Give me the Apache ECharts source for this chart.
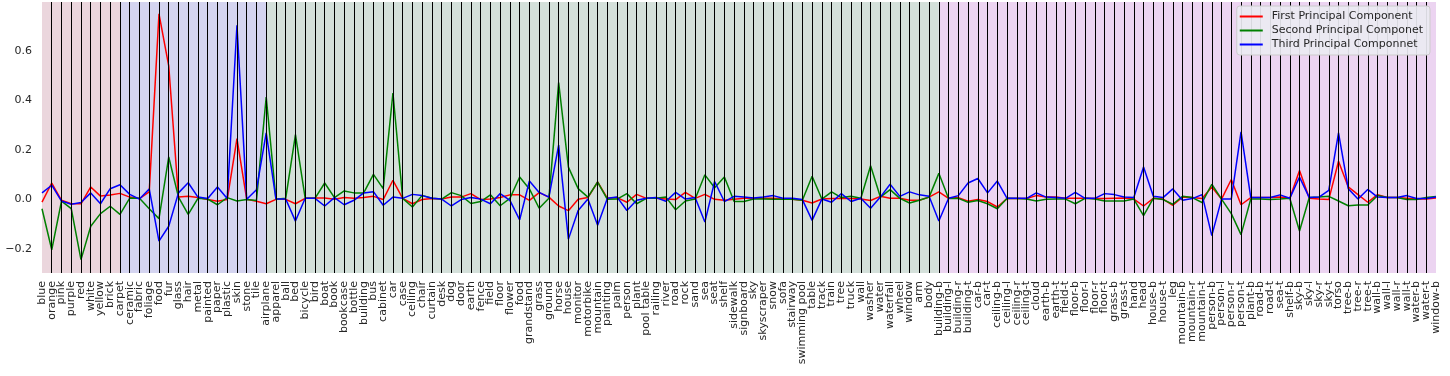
<!DOCTYPE html>
<html>
<head>
<meta charset="utf-8">
<script src="https://cdn.jsdelivr.net/npm/echarts@6/dist/echarts.min.js"></script>
<style>
  html, body { margin: 0; padding: 0; background: #fff; }
  #chart { width: 1450px; height: 376px; }
</style>
</head>
<body>
<div id="chart"></div>
<script>
// categories (colors, materials, objects, parts)
const categories = [
  'blue', 'orange', 'pink', 'purple', 'red', 'white', 'yellow', 'brick', 'carpet', 'ceramic',
  'fabric', 'foliage', 'food', 'fur', 'glass', 'hair', 'metal', 'painted', 'paper', 'plastic',
  'skin', 'stone', 'tile', 'airplane', 'apparel', 'ball', 'bed', 'bicycle', 'bird', 'boat',
  'book', 'bookcase', 'bottle', 'building', 'bus', 'cabinet', 'car', 'case', 'ceiling', 'chair',
  'curtain', 'desk', 'dog', 'door', 'earth', 'fence', 'field', 'floor', 'flower', 'food',
  'grandstand', 'grass', 'ground', 'horse', 'house', 'monitor', 'motorbike', 'mountain', 'painting', 'palm',
  'person', 'plant', 'pool table', 'railing', 'river', 'road', 'rock', 'sand', 'sea', 'seat',
  'shelf', 'sidewalk', 'signboard', 'sky', 'skyscraper', 'snow', 'sofa', 'stairway', 'swimming pool', 'table',
  'track', 'train', 'tree', 'truck', 'wall', 'washer', 'water', 'waterfall', 'wheel', 'window',
  'arm', 'body', 'building-b', 'building-l', 'building-r', 'building-t', 'car-b', 'car-t', 'ceiling-b', 'ceiling-l',
  'ceiling-r', 'ceiling-t', 'cloud', 'earth-b', 'earth-t', 'field-t', 'floor-b', 'floor-l', 'floor-r', 'floor-t',
  'grass-b', 'grass-t', 'hand', 'head', 'house-b', 'house-t', 'leg', 'mountain-b', 'mountain-r', 'mountain-t',
  'person-b', 'person-l', 'person-r', 'person-t', 'plant-b', 'road-b', 'road-t', 'sea-t', 'shelf-b', 'sky-b',
  'sky-l', 'sky-r', 'sky-t', 'torso', 'tree-b', 'tree-r', 'tree-t', 'wall-b', 'wall-l', 'wall-r',
  'wall-t', 'water-b', 'water-t', 'window-b'
]

const firstPC = [
  -0.011, 0.066, -0.004, -0.018, -0.018, 0.05, 0.013, 0.017, 0.024, 0.009,
  0.003, 0.03, 0.75, 0.54, 0.009, 0.012, 0.007, -0.001, -0.008, -0.001,
  0.245, 0.0, -0.008, -0.018, 0.0, 0.0, -0.018, 0.004, 0.005, 0.005,
  0.0, 0.007, 0.004, 0.007, 0.012, -0.001, 0.077, 0.004, -0.018, -0.001,
  0.003, 0.001, 0.009, 0.009, 0.023, -0.001, 0.001, 0.007, 0.018, 0.018,
  -0.004, 0.027, 0.009, -0.027, -0.046, 0.0, 0.007, 0.07, 0.004, 0.007,
  -0.012, 0.02, 0.004, 0.004, 0.001, -0.001, 0.028, 0.004, 0.02, 0.0,
  -0.004, 0.0, 0.004, 0.004, 0.004, 0.004, 0.001, 0.0, -0.004, -0.015,
  0.001, 0.003, 0.003, 0.003, 0.001, -0.005, 0.012, 0.004, 0.004, -0.004,
  -0.004, 0.009, 0.03, 0.004, 0.007, -0.008, -0.001, -0.009, -0.031, 0.003,
  0.003, 0.003, 0.015, 0.009, 0.009, 0.004, 0.004, 0.004, 0.003, 0.003,
  0.004, 0.005, 0.001, -0.027, 0.004, 0.001, -0.024, 0.009, 0.007, 0.003,
  0.05, 0.001, 0.08, -0.022, 0.007, 0.007, 0.007, 0.009, 0.004, 0.117,
  0.004, 0.001, -0.001, 0.154, 0.05, 0.019, -0.012, 0.019, 0.007, 0.007,
  0.004, 0.001, 0.001, 0.005
]

const secondPC = [
  -0.038, -0.204, -0.007, -0.038, -0.244, -0.109, -0.058, -0.028, -0.061, 0.005,
  0.004, -0.038, -0.078, 0.171, 0.009, -0.061, 0.004, 0.001, -0.022, 0.007,
  -0.007, -0.001, -0.005, 0.414, 0.0, 0.004, 0.262, 0.004, 0.004, 0.066,
  0.007, 0.034, 0.026, 0.026, 0.101, 0.043, 0.43, 0.004, -0.031, 0.016,
  0.004, 0.001, 0.027, 0.015, -0.017, -0.009, 0.018, -0.026, 0.004, 0.09,
  0.042, -0.036, 0.004, 0.472, 0.13, 0.043, 0.009, 0.07, 0.0, 0.001,
  0.023, -0.018, 0.004, 0.004, 0.009, -0.042, -0.007, 0.001, 0.099, 0.047,
  0.09, -0.009, -0.009, 0.001, 0.001, 0.0, 0.0, 0.0, -0.004, 0.093,
  0.001, 0.03, 0.007, 0.012, 0.004, 0.136, 0.009, 0.039, 0.004, -0.015,
  -0.004, 0.009, 0.105, 0.003, 0.004, -0.012, -0.005, -0.018, -0.038, 0.004,
  0.003, 0.001, -0.007, 0.0, 0.001, 0.001, -0.018, 0.004, 0.001, -0.007,
  -0.007, -0.007, 0.001, -0.066, 0.004, -0.001, -0.02, 0.012, 0.007, -0.013,
  0.061, 0.001, -0.058, -0.143, 0.001, 0.001, -0.001, 0.001, 0.004, -0.128,
  0.007, 0.009, 0.012, -0.007, -0.026, -0.023, -0.023, 0.015, 0.007, 0.007,
  -0.001, -0.001, 0.007, 0.011
]

const thirdPC = [
  0.026, 0.057, -0.007, -0.02, -0.013, 0.026, -0.018, 0.043, 0.059, 0.02,
  0.001, 0.042, -0.169, -0.109, 0.026, 0.067, 0.009, 0.003, 0.05, 0.003,
  0.704, 0.0, 0.039, 0.269, 0.001, 0.001, -0.088, 0.004, 0.004, -0.027,
  0.007, -0.022, -0.004, 0.026, 0.031, -0.024, 0.009, 0.004, 0.02, 0.015,
  0.004, 0.001, -0.027, -0.001, 0.007, 0.001, -0.018, 0.023, -0.004, -0.083,
  0.074, 0.028, 0.009, 0.219, -0.161, -0.045, 0.001, -0.105, 0.004, 0.009,
  -0.045, -0.004, 0.004, 0.007, -0.008, 0.028, 0.001, 0.007, -0.092, 0.072,
  -0.009, 0.012, 0.009, 0.005, 0.009, 0.015, 0.004, 0.004, -0.001, -0.085,
  0.001, -0.012, 0.023, -0.009, 0.004, -0.036, 0.009, 0.061, 0.012, 0.03,
  0.018, 0.012, -0.088, 0.004, 0.015, 0.066, 0.084, 0.026, 0.074, 0.004,
  0.004, 0.004, 0.026, 0.009, 0.007, 0.004, 0.028, 0.004, 0.004, 0.023,
  0.019, 0.009, 0.007, 0.131, 0.012, 0.007, 0.042, -0.004, 0.003, 0.019,
  -0.147, 0.001, 0.001, 0.273, 0.007, 0.007, 0.007, 0.018, 0.004, 0.09,
  0.007, 0.009, 0.036, 0.269, 0.043, 0.001, 0.04, 0.009, 0.007, 0.007,
  0.015, 0.003, 0.003, 0.009
]

const seriesNames = ['First Principal Component', 'Second Principal Componet', 'Third Principal Componnet']
const yTicks = [-0.2, 0, 0.2, 0.4, 0.6]
// group spans, as category index [from, to]
const groupSpans = [[0, 8], [8, 23], [23, 92], [92, 143]]

const lineColors = ['#ff0000', '#008000', '#0000ff']
const bandColors = ['#ebd6dd', '#d4d4f0', '#d4e0da', '#ecd4f1']
const font = 'DejaVu Sans'

const chart = echarts.init(document.getElementById('chart'))

const lines = [firstPC, secondPC, thirdPC].map((vals, k) => ({
  name: seriesNames[k],
  type: 'line',
  data: vals,
  z: 3,
  symbol: 'none',
  animation: false,
  lineStyle: { color: lineColors[k], width: 1.5 },
  itemStyle: { color: lineColors[k] }
}))

// black vertical line at every inner category
const tickLines = categories.slice(1, -1).map((c, i) => ({ xAxis: i + 1 }))

chart.setOption({
  animation: false,
  grid: { left: 42, right: 14, top: 2, bottom: 103, containLabel: false },
  legend: {
    data: seriesNames,
    orient: 'vertical',
    right: 20,
    top: 6,
    icon: 'rect',
    itemWidth: 23,
    itemHeight: 2,
    itemGap: 3,
    padding: [5, 7, 5, 3],
    backgroundColor: 'rgba(234,234,242,0.92)',
    borderColor: '#cccccc',
    borderWidth: 1,
    borderRadius: 3,
    z: 10,
    textStyle: { fontFamily: font, fontSize: 11, color: '#262626', padding: [0, 0, 0, 4] }
  },
  xAxis: {
    type: 'category',
    data: categories,
    boundaryGap: false,
    axisLine: { show: false },
    axisTick: { show: false },
    splitLine: { show: false },
    axisLabel: {
      interval: 0,
      rotate: 90,
      margin: 8,
      fontFamily: font,
      fontSize: 11,
      color: '#262626'
    }
  },
  yAxis: {
    type: 'value',
    min: -0.298,
    max: 0.798,
    axisLine: { show: false },
    axisTick: { show: false },
    splitLine: { show: false },
    axisLabel: {
      customValues: yTicks,
      margin: 10,
      fontFamily: font,
      fontSize: 11,
      color: '#262626',
      formatter: (v) => v.toFixed(1).replace('-', '\u2212')
    }
  },
  series: [
    {
      name: 'bands',
      type: 'line',
      data: [],
      z: 0,
      silent: true,
      markArea: {
        silent: true,
        data: groupSpans.map((s, k) => [
          { xAxis: s[0], itemStyle: { color: bandColors[k], opacity: 1 } },
          { xAxis: s[1] }
        ])
      }
    },
    {
      name: 'ticks',
      type: 'line',
      data: [],
      z: 1,
      silent: true,
      markLine: {
        silent: true,
        symbol: 'none',
        label: { show: false },
        animation: false,
        lineStyle: { color: '#000000', width: 1, type: 'solid' },
        data: tickLines
      }
    },
    ...lines
  ]
})
</script>
</body>
</html>
